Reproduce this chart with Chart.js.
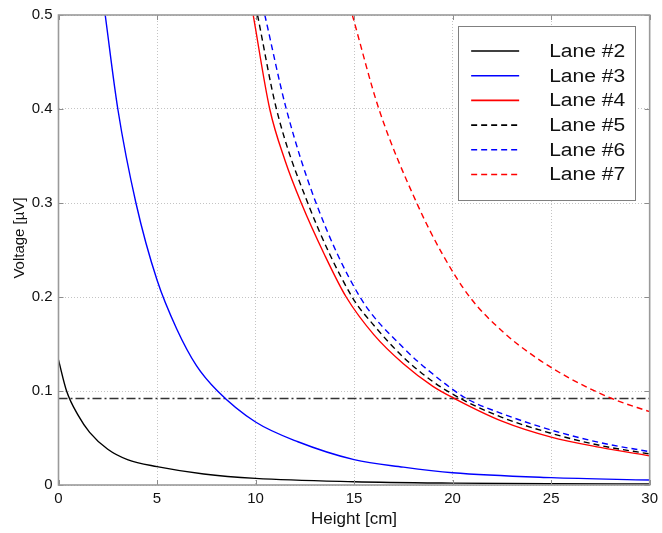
<!DOCTYPE html>
<html>
<head>
<meta charset="utf-8">
<title>Voltage vs height</title>
<script src="https://cdn.jsdelivr.net/npm/chart.js@4.4.1/dist/chart.umd.min.js"></script>
<style>
  html, body { margin: 0; padding: 0; background: #fff; }
  #wrap { position: relative; width: 663px; height: 533px; }
  #edge { position: absolute; left: 662px; top: 0; width: 1px; height: 533px; background: #ffd6d6; }
</style>
</head>
<body>
<div id="wrap">
  <canvas id="voltageChart" width="663" height="533"></canvas>
  <div id="edge"></div>
</div>
<script>
// measured curves, height in cm / voltage in uV
const lane2Height = [0, 0.41, 1, 1.58, 2.5, 3.5, 5, 7.37, 10, 15, 20, 25, 30];
const lane2Voltage = [0.133, 0.1, 0.074, 0.056, 0.038, 0.027, 0.0195, 0.0117, 0.007, 0.0035, 0.002, 0.0013, 0.001];

const lane3Height = [2.37, 3.01, 3.93, 5, 6, 7, 8.07, 10, 12.15, 15, 17.5, 20, 25, 30];
const lane3Voltage = [0.5, 0.4, 0.3, 0.218, 0.166, 0.127, 0.1, 0.067, 0.046, 0.027, 0.019, 0.013, 0.0078, 0.0053];

const lane4Height = [9.88, 10.72, 11.5, 12.32, 13.5, 14.6, 16, 17.5, 19, 20.1, 22.5, 25, 27.5, 30];
const lane4Voltage = [0.5, 0.4, 0.345, 0.3, 0.245, 0.2, 0.16, 0.129, 0.105, 0.092, 0.068, 0.051, 0.04, 0.031];

const lane5Height = [10.1, 11.06, 12.65, 14.9, 16, 17.5, 19, 20.4, 22.5, 25, 27.5, 30];
const lane5Voltage = [0.5, 0.4, 0.3, 0.2, 0.17, 0.136, 0.11, 0.092, 0.072, 0.055, 0.042, 0.033];

const lane6Height = [10.47, 11.56, 13.07, 15.3, 17.5, 19, 20.7, 22.5, 25, 27.5, 30];
const lane6Voltage = [0.5, 0.4, 0.3, 0.2, 0.146, 0.118, 0.092, 0.076, 0.0585, 0.045, 0.0354];

const lane7Height = [14.91, 16.26, 18.18, 19.5, 20.87, 22.55, 24.2, 25.9, 28.08, 30];
const lane7Voltage = [0.5, 0.4, 0.3, 0.245, 0.2, 0.163, 0.136, 0.114, 0.092, 0.078];

const thresholdHeight = [0, 30];
const thresholdVoltage = [0.092, 0.092];

const laneNames = ["Lane #2", "Lane #3", "Lane #4", "Lane #5", "Lane #6", "Lane #7"];
const xTicks = [0, 5, 10, 15, 20, 25, 30];
const yTicks = [0, 0.1, 0.2, 0.3, 0.4, 0.5];

const FONT = '"Liberation Sans", Arial, Helvetica, sans-serif';

function toPoints(xs, ys) {
    return xs.map((x, i) => ({ x: x, y: ys[i] }));
}

function laneSet(label, xs, ys, color, dash) {
    return {
        label: label,
        data: toPoints(xs, ys),
        showLine: true,
        borderColor: color,
        borderWidth: 1.4,
        borderDash: dash,
        pointRadius: 0,
        cubicInterpolationMode: "monotone",
        fill: false
    };
}

const datasets = [
    laneSet(laneNames[0], lane2Height, lane2Voltage, "#000000", []),
    laneSet(laneNames[1], lane3Height, lane3Voltage, "#0000ff", []),
    laneSet(laneNames[2], lane4Height, lane4Voltage, "#ff0000", []),
    laneSet(laneNames[3], lane5Height, lane5Voltage, "#000000", [6, 4]),
    laneSet(laneNames[4], lane6Height, lane6Voltage, "#0000ff", [6, 4]),
    laneSet(laneNames[5], lane7Height, lane7Voltage, "#ff0000", [6, 4]),
    {
        label: "threshold",
        data: toPoints(thresholdHeight, thresholdVoltage),
        showLine: true,
        borderColor: "#333333",
        borderWidth: 1.3,
        borderDash: [9, 3, 2, 3],
        pointRadius: 0,
        fill: false
    }
];

// box round the axes plus MATLAB-style inward ticks
const axesBox = {
    id: "axesBox",
    afterDatasetsDraw(chart) {
        const { ctx, chartArea: a, scales } = chart;
        ctx.save();
        ctx.strokeStyle = "#8c8c8c";
        ctx.lineWidth = 1;
        ctx.beginPath();
        xTicks.forEach(v => {
            const px = Math.round(scales.x.getPixelForValue(v)) + 0.5;
            ctx.moveTo(px, a.bottom); ctx.lineTo(px, a.bottom - 5);
            ctx.moveTo(px, a.top); ctx.lineTo(px, a.top + 5);
        });
        yTicks.forEach(v => {
            const py = Math.round(scales.y.getPixelForValue(v)) + 0.5;
            ctx.moveTo(a.left, py); ctx.lineTo(a.left + 5, py);
            ctx.moveTo(a.right, py); ctx.lineTo(a.right - 5, py);
        });
        ctx.stroke();
        ctx.strokeStyle = "#9a9a9a";
        ctx.lineWidth = 1.6;
        ctx.strokeRect(a.left, a.top, a.right - a.left, a.bottom - a.top);

        // y axis title, sitting a little above the middle of the axis
        ctx.save();
        ctx.translate(20, (a.top + a.bottom) / 2 - 12);
        ctx.rotate(-Math.PI / 2);
        ctx.fillStyle = "#111";
        ctx.font = "15px " + FONT;
        ctx.textAlign = "center";
        ctx.textBaseline = "middle";
        ctx.fillText("Voltage [\u00b5V]", 0, 0);
        ctx.restore();
        ctx.restore();
    }
};

// legend box in the upper right of the axes
const laneLegend = {
    id: "laneLegend",
    afterDraw(chart) {
        const { ctx, chartArea: a } = chart;
        const w = 177, h = 174;
        const left = a.right - 14.5 - w;
        const top = a.top + 10.5;
        ctx.save();
        ctx.fillStyle = "#ffffff";
        ctx.fillRect(left, top, w, h);
        ctx.strokeStyle = "#808080";
        ctx.lineWidth = 1;
        ctx.strokeRect(Math.round(left) + 0.5, Math.round(top) + 0.5, w, h);
        laneNames.forEach((name, i) => {
            const ds = chart.data.datasets[i];
            const y = top + 25.5 + i * 24.7;
            ctx.beginPath();
            ctx.setLineDash(ds.borderDash);
            ctx.strokeStyle = ds.borderColor;
            ctx.lineWidth = 1.6;
            ctx.moveTo(left + 13, y);
            ctx.lineTo(left + 61, y);
            ctx.stroke();
            ctx.setLineDash([]);
            ctx.save();
            ctx.translate(left + 91, y);
            ctx.scale(1.17, 1);
            ctx.fillStyle = "#111";
            ctx.font = "18px " + FONT;
            ctx.textBaseline = "middle";
            ctx.fillText(name, 0, 1);
            ctx.restore();
        });
        ctx.restore();
    }
};

new Chart(document.getElementById("voltageChart"), {
    type: "scatter",
    data: { datasets: datasets },
    options: {
        responsive: false,
        animation: false,
        events: [],
        layout: { padding: { top: 15, right: 8, left: 0, bottom: 0 } },
        plugins: {
            legend: { display: false },
            tooltip: { enabled: false }
        },
        scales: {
            x: {
                type: "linear",
                min: 0,
                max: 30,
                afterBuildTicks(scale) { scale.ticks = xTicks.map(v => ({ value: v })); },
                afterFit(scale) { scale.height = 48; },
                ticks: {
                    padding: 5,
                    color: "#111",
                    font: { family: FONT, size: 15 },
                    maxRotation: 0
                },
                grid: { color: "#c4c4c4", lineWidth: 1, drawTicks: false },
                border: { display: false, dash: [1, 2] },
                title: {
                    display: true,
                    text: "Height [cm]",
                    color: "#111",
                    font: { family: FONT, size: 17 },
                    padding: { top: 0, bottom: 3 }
                }
            },
            y: {
                type: "linear",
                min: 0,
                max: 0.5,
                afterBuildTicks(scale) { scale.ticks = yTicks.map(v => ({ value: v })); },
                afterFit(scale) { scale.width = 58.5; },
                ticks: {
                    padding: 6,
                    color: "#111",
                    font: { family: FONT, size: 15 },
                    callback: v => String(Math.round(v * 10) / 10)
                },
                grid: { color: "#c4c4c4", lineWidth: 1, drawTicks: false },
                border: { display: false, dash: [1, 2] },
                title: { display: false }
            }
        }
    },
    plugins: [axesBox, laneLegend]
});
</script>
</body>
</html>
